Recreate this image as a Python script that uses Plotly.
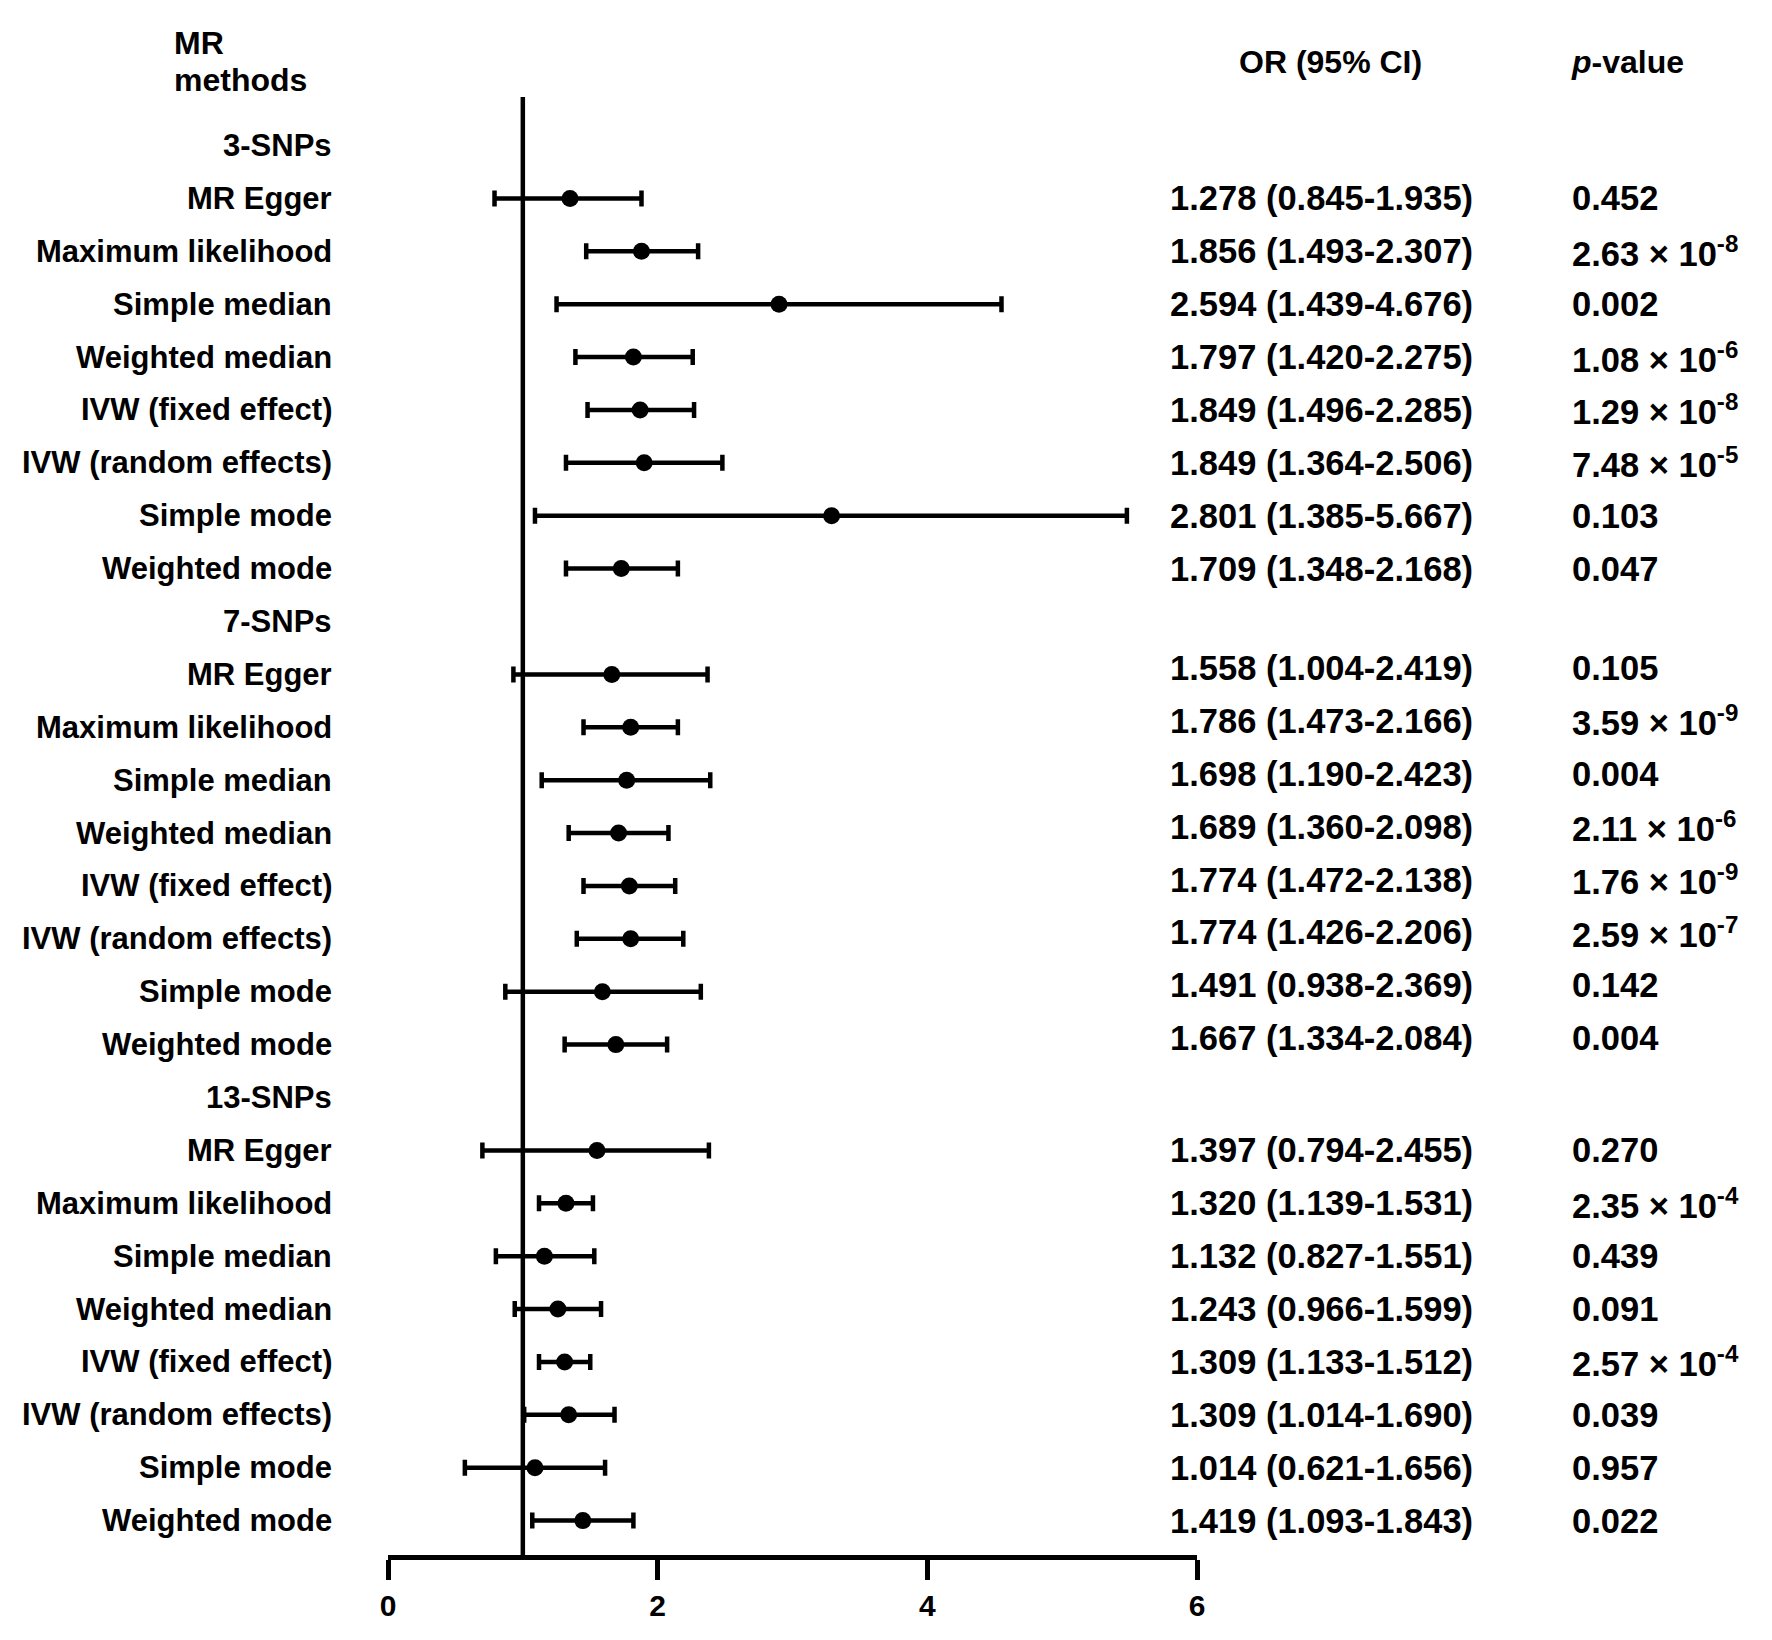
import plotly.graph_objects as go

# forest plot: MR estimates for 3 SNP sets
groups = ["3-SNPs", "7-SNPs", "13-SNPs"]
methods = ["MR Egger", "Maximum likelihood", "Simple median", "Weighted median",
           "IVW (fixed effect)", "IVW (random effects)", "Simple mode", "Weighted mode"]

# plotted estimates / CI ends
est_3 = [1.35, 1.88, 2.90, 1.82, 1.87, 1.90, 3.29, 1.73]
lo_3 = [0.79, 1.47, 1.25, 1.39, 1.48, 1.32, 1.09, 1.32]
hi_3 = [1.88, 2.30, 4.55, 2.26, 2.27, 2.48, 5.48, 2.15]

est_7 = [1.66, 1.80, 1.77, 1.71, 1.79, 1.80, 1.59, 1.69]
lo_7 = [0.93, 1.45, 1.14, 1.34, 1.45, 1.40, 0.87, 1.31]
hi_7 = [2.37, 2.15, 2.39, 2.08, 2.13, 2.19, 2.32, 2.07]

est_13 = [1.55, 1.32, 1.16, 1.26, 1.31, 1.34, 1.09, 1.445]
lo_13 = [0.70, 1.12, 0.80, 0.94, 1.12, 1.01, 0.57, 1.07]
hi_13 = [2.38, 1.52, 1.53, 1.58, 1.50, 1.68, 1.61, 1.82]

or_3 = ["1.278 (0.845-1.935)", "1.856 (1.493-2.307)", "2.594 (1.439-4.676)", "1.797 (1.420-2.275)",
        "1.849 (1.496-2.285)", "1.849 (1.364-2.506)", "2.801 (1.385-5.667)", "1.709 (1.348-2.168)"]
or_7 = ["1.558 (1.004-2.419)", "1.786 (1.473-2.166)", "1.698 (1.190-2.423)", "1.689 (1.360-2.098)",
        "1.774 (1.472-2.138)", "1.774 (1.426-2.206)", "1.491 (0.938-2.369)", "1.667 (1.334-2.084)"]
or_13 = ["1.397 (0.794-2.455)", "1.320 (1.139-1.531)", "1.132 (0.827-1.551)", "1.243 (0.966-1.599)",
         "1.309 (1.133-1.512)", "1.309 (1.014-1.690)", "1.014 (0.621-1.656)", "1.419 (1.093-1.843)"]

p_3 = ["0.452", "2.63 × 10<sup>-8</sup>", "0.002", "1.08 × 10<sup>-6</sup>",
       "1.29 × 10<sup>-8</sup>", "7.48 × 10<sup>-5</sup>", "0.103", "0.047"]
p_7 = ["0.105", "3.59 × 10<sup>-9</sup>", "0.004", "2.11 × 10<sup>-6</sup>",
       "1.76 × 10<sup>-9</sup>", "2.59 × 10<sup>-7</sup>", "0.142", "0.004"]
p_13 = ["0.270", "2.35 × 10<sup>-4</sup>", "0.439", "0.091",
        "2.57 × 10<sup>-4</sup>", "0.039", "0.957", "0.022"]

xticks = [0, 2, 4, 6]

W, H = 1772, 1640
OFF = 8  # page body margin
ML, MT = 380, 89
PW, PH = 809, 1458
MR_, MB = W - ML - PW, H - MT - PH
FONT = "Liberation Sans, Arial, sans-serif"


def xp(px):
    return (px - OFF - ML) / PW


def yp(py):
    return (MT + PH - (py - OFF)) / PH


est_all = [est_3, est_7, est_13]
lo_all = [lo_3, lo_7, lo_13]
hi_all = [hi_3, hi_7, hi_13]
or_all = [or_3, or_7, or_13]
p_all = [p_3, p_7, p_13]
text_shift = [0, -0.12, 0]

xs, ys, ep, em = [], [], [], []
ann = []
lab_font = dict(family=FONT, size=31, color="black", weight="bold")
val_font = dict(family=FONT, size=34.5, color="black", weight="bold")

for gi, g in enumerate(groups):
    base = gi * 9
    ann.append(dict(x=xp(334), y=base, xref="paper", yref="y", text=g,
                    xanchor="right", yanchor="middle", showarrow=False, font=lab_font))
    for k, m in enumerate(methods):
        r = base + 1 + k
        e, lo, hi = est_all[gi][k], lo_all[gi][k], hi_all[gi][k]
        xs.append(e)
        ys.append(r)
        ep.append(hi - e)
        em.append(e - lo)
        ann.append(dict(x=xp(334), y=r, xref="paper", yref="y", text=m,
                        xanchor="right", yanchor="middle", showarrow=False, font=lab_font))
        ann.append(dict(x=xp(1168), y=r + text_shift[gi], xref="paper", yref="y",
                        text=or_all[gi][k], xanchor="left", yanchor="middle",
                        showarrow=False, font=val_font))
        ann.append(dict(x=xp(1570), y=r + text_shift[gi], xref="paper", yref="y",
                        text=p_all[gi][k], xanchor="left", yanchor="middle",
                        showarrow=False, font=val_font))

hdr_font = dict(family=FONT, size=32, color="black", weight="bold")
ann.append(dict(x=xp(172), y=yp(43), xref="paper", yref="paper", text="MR",
                xanchor="left", yanchor="middle", showarrow=False, font=hdr_font))
ann.append(dict(x=xp(172), y=yp(80), xref="paper", yref="paper", text="methods",
                xanchor="left", yanchor="middle", showarrow=False, font=hdr_font))
ann.append(dict(x=xp(1330), y=yp(62), xref="paper", yref="paper", text="OR (95% CI)",
                xanchor="center", yanchor="middle", showarrow=False, font=hdr_font))
ann.append(dict(x=xp(1569), y=yp(62), xref="paper", yref="paper", text="<i>p</i>-value",
                xanchor="left", yanchor="middle", showarrow=False, font=hdr_font))

fig = go.Figure()
fig.add_trace(go.Scatter(
    x=xs, y=ys, mode="markers",
    marker=dict(color="black", size=17, symbol="circle"),
    error_x=dict(type="data", symmetric=False, array=ep, arrayminus=em,
                 color="black", thickness=4.5, width=8),
    showlegend=False, cliponaxis=False,
))

fig.add_shape(type="line", x0=1, x1=1, xref="x", y0=0, y1=1, yref="paper",
              line=dict(color="black", width=4.5), layer="below")

fig.update_layout(
    width=W, height=H,
    margin=dict(l=ML, r=MR_, t=MT, b=MB, autoexpand=False),
    plot_bgcolor="white", paper_bgcolor="white",
    annotations=ann,
    xaxis=dict(range=[0, 6], tickvals=xticks, ticktext=[str(t) for t in xticks],
               showgrid=False, zeroline=False, showline=True, linecolor="black",
               linewidth=4.5, ticks="outside", ticklen=20, tickwidth=4.5,
               tickcolor="black", automargin=False,
               tickfont=dict(family=FONT, size=30, color="black", weight="bold")),
    yaxis=dict(range=[26.65, -0.917], visible=False, showgrid=False,
               zeroline=False, automargin=False),
)

fig.write_html("out.html")
